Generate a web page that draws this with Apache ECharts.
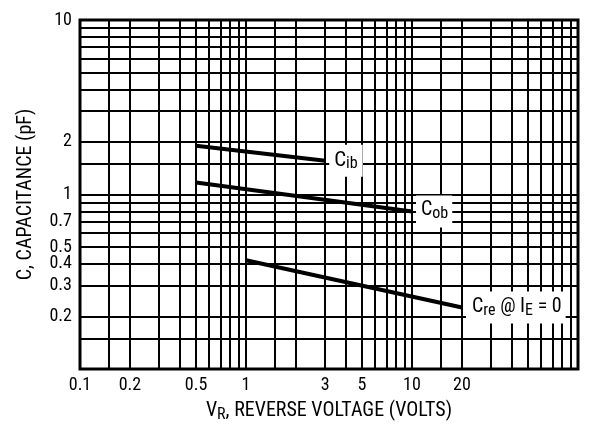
<!DOCTYPE html>
<html><head><meta charset="utf-8">
<script src="https://cdn.jsdelivr.net/npm/echarts@6/dist/echarts.min.js"></script>
<style>html,body{margin:0;padding:0;background:#fff}#c{width:600px;height:429px}</style>
</head><body><div id="c"></div>
<script>
// Tick labels
const xTickLabels = [0.1, 0.2, 0.5, 1, 3, 5, 10, 20];
const yTickLabels = [10, 2, 1, 0.7, 0.5, 0.4, 0.3, 0.2];
// Grid lines
const xGridLines = [0.1, 0.15, 0.2, 0.3, 0.4, 0.5, 0.6, 0.7, 0.8, 0.9, 1, 1.5, 2, 3, 4, 5, 6, 7, 8, 9, 10, 15, 20, 30, 40, 50, 60, 70, 80, 90];
const yGridLines = [0.15, 0.2, 0.3, 0.4, 0.5, 0.6, 0.7, 0.8, 0.9, 1, 1.5, 2, 3, 4, 5, 6, 7, 8, 9, 10];
// Curves: reverse voltage (V) and capacitance (pF)
const cibV = [0.5, 3];
const cibC = [1.9, 1.56];
const cobV = [0.5, 10];
const cobC = [1.17, 0.80];
const creV = [1, 20];
const creC = [0.42, 0.225];

const FONT = "'Roboto Condensed', 'Open Sans', 'Liberation Sans', sans-serif";
const FSTYLE = 'condensed';
const TICK_SIZE = 18;

const tickLabel = (show, v, dist) => ({
  show, formatter: String(v), position: 'start', distance: dist,
  color: '#000', fontFamily: FONT, fontStyle: FSTYLE, fontSize: TICK_SIZE
});
const vLineData = xGridLines.map(v => ({ xAxis: v, label: tickLabel(xTickLabels.includes(v), v, 7) }));
const hLineData = yGridLines.map(v => ({ yAxis: v, label: tickLabel(yTickLabels.includes(v), v, 8) }));

const pairs = (xs, ys) => xs.map((x, i) => [x, ys[i]]);
const subRich = (main, sub, drop) => ({
  m: { fontFamily: FONT, fontStyle: FSTYLE, fontSize: main, color: '#000', verticalAlign: 'top', padding: [0, 0, 0, 0] },
  s: { fontFamily: FONT, fontStyle: FSTYLE, fontSize: sub, color: '#000', verticalAlign: 'top', padding: [drop, 0, 0, 0] }
});

function curve(name, xs, ys, fmt, rich, pad) {
  return {
    type: 'line', name, data: pairs(xs, ys), z: 5,
    symbol: 'none', lineStyle: { color: '#000', width: 4 },
    endLabel: {
      show: true, formatter: fmt, rich, distance: 4,
      backgroundColor: '#fff', padding: pad
    },
    silent: true
  };
}

const chart = echarts.init(document.getElementById('c'), null, { renderer: 'canvas' });
chart.setOption({
  animation: false,
  backgroundColor: '#fff',
  grid: { left: 80, right: 22, top: 20, bottom: 60, show: true, borderColor: '#000', borderWidth: 3, backgroundColor: 'transparent' },
  xAxis: {
    type: 'log', min: 0.1, max: 100, logBase: 10,
    axisLine: { show: false }, axisTick: { show: false }, axisLabel: { show: false }, splitLine: { show: false },
    name: '{a|V}{b|R}{a|, REVERSE VOLTAGE (VOLTS)}', nameLocation: 'middle', nameGap: 32,
    nameTextStyle: {
      rich: {
        a: { fontFamily: FONT, fontStyle: FSTYLE, fontSize: 20, color: '#000', verticalAlign: 'top' },
        b: { fontFamily: FONT, fontStyle: FSTYLE, fontSize: 16, color: '#000', verticalAlign: 'top', padding: [6, 0, 0, 0] }
      }
    }
  },
  yAxis: {
    type: 'log', min: 0.1, max: 10, logBase: 10,
    axisLine: { show: false }, axisTick: { show: false }, axisLabel: { show: false }, splitLine: { show: false },
    name: 'C, CAPACITANCE (pF)', nameLocation: 'middle', nameGap: 44, nameRotate: 90,
    nameTextStyle: { fontFamily: FONT, fontStyle: FSTYLE, fontSize: 20, color: '#000' }
  },
  series: [
    {
      type: 'line', name: 'grid', data: [], z: 1, silent: true,
      markLine: {
        silent: true, symbol: ['none', 'none'], animation: false,
        lineStyle: { color: '#000', width: 2, type: 'solid' },
        emphasis: { disabled: true },
        data: vLineData.concat(hLineData)
      }
    },
    curve('Cib', cibV, cibC, '{m|C}{s|ib}', subRich(21, 16, 6), [5, 5, 5, 5]),
    curve('Cob', cobV, cobC, '{m|C}{s|ob}', subRich(20, 16, 6), [5, 4, 5, 5]),
    curve('Cre', creV, creC, '{m|C}{s|re}{m| @ I}{s|E}{m| = 0}', subRich(20, 16, 6), [5, 4, 5, 6])
  ]
});
</script></body></html>
